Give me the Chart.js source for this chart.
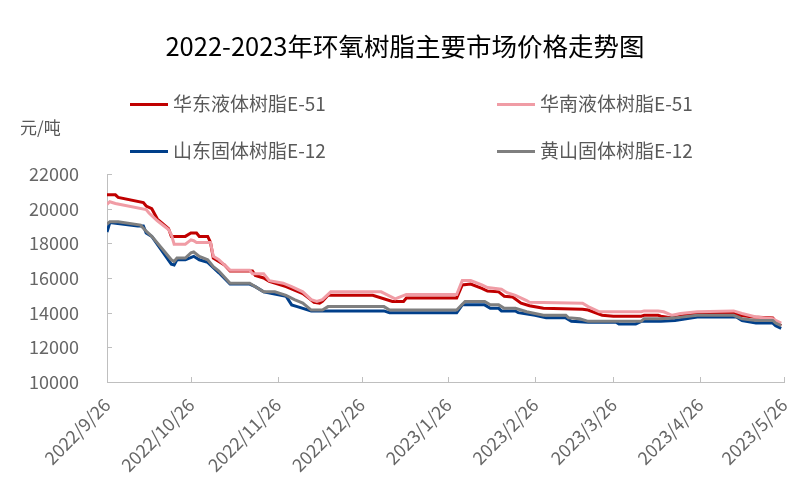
<!DOCTYPE html>
<html><head><meta charset="utf-8">
<script src="https://cdn.jsdelivr.net/npm/chart.js@4.4.0/dist/chart.umd.min.js"></script>
<style>
html,body{margin:0;padding:0;background:#fff;}
#wrap{position:relative;width:810px;height:499px;font-family:"Noto Sans CJK SC",sans-serif;}
#title{position:absolute;left:0;top:27px;width:810px;text-align:center;font-size:25.5px;color:#000;line-height:36px;}
.leg{position:absolute;font-size:19px;color:#595959;line-height:24px;white-space:nowrap;}
.leg .sw{display:inline-block;width:38px;height:3px;vertical-align:middle;margin-right:5px;position:relative;top:-1px;}
#unit{position:absolute;left:20px;top:115px;font-size:17px;color:#595959;line-height:24px;}
canvas{position:absolute;left:0;top:0;}
</style></head>
<body>
<div id="wrap">
<canvas id="c" width="810" height="499"></canvas>
<div id="title">2022-2023年环氧树脂主要市场价格走势图</div>
<div id="unit">元/吨</div>
<div id="legend"></div>
</div>
<script>
const chartTitle = '2022-2023年环氧树脂主要市场价格走势图';
const seriesNames = ['华东液体树脂E-51','华南液体树脂E-51','山东固体树脂E-12','黄山固体树脂E-12'];
const seriesColors = ['#C00000','#F09CA5','#003F8A','#7F7F7F'];
const xTickLabels = ['2022/9/26','2022/10/26','2022/11/26','2022/12/26','2023/1/26','2023/2/26','2023/3/26','2023/4/26','2023/5/26'];
const yTickValues = [10000,12000,14000,16000,18000,20000,22000];

const eastDates = ['2022/9/26','2022/9/29','2022/9/30','2022/10/9','2022/10/10','2022/10/12','2022/10/14','2022/10/18','2022/10/19','2022/10/24','2022/10/26','2022/10/28','2022/10/29','2022/11/1','2022/11/2','2022/11/3','2022/11/7','2022/11/9','2022/11/17','2022/11/18','2022/11/21','2022/11/23','2022/11/29','2022/12/2','2022/12/5','2022/12/7','2022/12/9','2022/12/11','2022/12/12','2022/12/14','2022/12/30','2023/1/6','2023/1/10','2023/1/11','2023/1/29','2023/1/31','2023/2/3','2023/2/7','2023/2/9','2023/2/13','2023/2/15','2023/2/18','2023/2/21','2023/2/24','2023/3/1','2023/3/15','2023/3/17','2023/3/22','2023/3/26','2023/4/5','2023/4/6','2023/4/11','2023/4/12','2023/4/16','2023/4/19','2023/4/22','2023/4/25','2023/4/27','2023/5/8','2023/5/10','2023/5/15','2023/5/22','2023/5/23','2023/5/25'];
const eastPrices = [20800,20800,20650,20350,20150,20000,19400,18850,18400,18400,18600,18600,18400,18400,18050,17150,16750,16400,16400,16150,16000,15800,15500,15300,15100,14850,14600,14550,14650,15000,15000,14650,14650,14850,14850,15600,15650,15400,15250,15200,14950,14900,14550,14400,14250,14200,14150,13850,13800,13800,13850,13850,13800,13700,13800,13900,13950,14000,14000,13850,13750,13700,13500,13250];

const southDates = ['2022/9/26','2022/9/27','2022/9/29','2022/10/10','2022/10/11','2022/10/14','2022/10/18','2022/10/19','2022/10/20','2022/10/24','2022/10/26','2022/10/27','2022/10/28','2022/11/2','2022/11/3','2022/11/5','2022/11/7','2022/11/9','2022/11/16','2022/11/17','2022/11/21','2022/11/23','2022/11/28','2022/12/1','2022/12/5','2022/12/8','2022/12/10','2022/12/12','2022/12/15','2023/1/2','2023/1/7','2023/1/11','2023/1/29','2023/1/31','2023/2/3','2023/2/7','2023/2/9','2023/2/14','2023/2/16','2023/2/19','2023/2/23','2023/2/24','2023/3/15','2023/3/17','2023/3/21','2023/4/5','2023/4/6','2023/4/11','2023/4/13','2023/4/16','2023/4/19','2023/4/25','2023/5/8','2023/5/11','2023/5/16','2023/5/22','2023/5/23','2023/5/25'];
const southPrices = [20250,20400,20300,19950,19750,19300,18800,18500,17950,17950,18200,18150,18050,18050,17250,17050,16750,16450,16450,16250,16250,15850,15700,15500,15200,14750,14650,14750,15200,15200,14800,15050,15050,15850,15850,15600,15450,15350,15150,15000,14700,14600,14550,14350,14050,14050,14100,14100,14050,13850,13950,14050,14100,13950,13750,13650,13550,13400];

const shandongDates = ['2022/9/26','2022/9/27','2022/10/7','2022/10/9','2022/10/10','2022/10/12','2022/10/19','2022/10/20','2022/10/21','2022/10/24','2022/10/27','2022/10/29','2022/11/1','2022/11/3','2022/11/5','2022/11/9','2022/11/16','2022/11/18','2022/11/21','2022/11/29','2022/12/1','2022/12/3','2022/12/8','2023/1/3','2023/1/5','2023/1/29','2023/1/31','2023/2/8','2023/2/10','2023/2/13','2023/2/14','2023/2/19','2023/2/20','2023/2/26','2023/3/2','2023/3/9','2023/3/11','2023/3/17','2023/3/27','2023/3/28','2023/4/3','2023/4/5','2023/4/12','2023/4/17','2023/4/25','2023/5/9','2023/5/11','2023/5/16','2023/5/22','2023/5/23','2023/5/25'];
const shandongPrices = [18650,19200,19000,19000,18600,18400,16800,16750,17050,17050,17250,17050,16900,16600,16300,15650,15650,15500,15200,14950,14450,14350,14100,14100,14000,14000,14450,14450,14250,14250,14100,14100,14000,13850,13700,13700,13500,13450,13450,13350,13350,13500,13500,13550,13750,13750,13550,13400,13400,13250,13100];

const huangshanDates = ['2022/9/26','2022/9/27','2022/9/30','2022/10/8','2022/10/10','2022/10/12','2022/10/19','2022/10/20','2022/10/21','2022/10/24','2022/10/26','2022/10/27','2022/10/29','2022/11/1','2022/11/3','2022/11/5','2022/11/9','2022/11/16','2022/11/21','2022/11/25','2022/11/29','2022/12/2','2022/12/5','2022/12/8','2022/12/12','2022/12/14','2023/1/3','2023/1/5','2023/1/29','2023/2/1','2023/2/8','2023/2/10','2023/2/13','2023/2/15','2023/2/19','2023/2/23','2023/2/26','2023/3/1','2023/3/9','2023/3/10','2023/3/14','2023/3/17','2023/4/5','2023/4/6','2023/4/12','2023/4/17','2023/4/25','2023/5/8','2023/5/11','2023/5/16','2023/5/22','2023/5/23','2023/5/25'];
const huangshanPrices = [19100,19250,19250,19050,18700,18400,17050,16950,17150,17150,17450,17500,17250,17050,16650,16400,15700,15700,15200,15200,15000,14750,14550,14150,14150,14350,14350,14150,14150,14650,14650,14450,14450,14250,14250,14050,13950,13850,13850,13700,13650,13500,13500,13650,13650,13700,13850,13850,13650,13550,13550,13400,13250];

function dayNum(s){const p=s.split('/').map(Number);return Date.UTC(p[0],p[1]-1,p[2])/86400000;}
function pts(dates, prices){return dates.map((d,i)=>({x:dayNum(d),y:prices[i]}));}

const allSeries = [[eastDates,eastPrices],[southDates,southPrices],[shandongDates,shandongPrices],[huangshanDates,huangshanPrices]];

document.getElementById('title').textContent = chartTitle;
const legendPos = [[130,91],[497,91],[130,138],[497,138]];
const lg = document.getElementById('legend');
seriesNames.forEach((n,i)=>{
  const d=document.createElement('div');d.className='leg';
  d.style.left=legendPos[i][0]+'px';d.style.top=legendPos[i][1]+'px';
  const s=document.createElement('span');s.className='sw';s.style.background=seriesColors[i];
  d.appendChild(s);d.appendChild(document.createTextNode(n));lg.appendChild(d);
});

const tickMarks = {
  id:'tickMarks',
  beforeDatasetsDraw(chart){
    const {ctx, chartArea:a, scales:{x,y}} = chart;
    ctx.save();ctx.strokeStyle='#BFBFBF';ctx.lineWidth=1;ctx.beginPath();
    y.ticks.forEach(t=>{const py=Math.round(y.getPixelForValue(t.value))+0.5;ctx.moveTo(a.left,py);ctx.lineTo(a.left+5,py);});
    x.ticks.forEach(t=>{const px=Math.round(x.getPixelForValue(t.value))+0.5;ctx.moveTo(px,a.bottom);ctx.lineTo(px,a.bottom-5);});
    ctx.stroke();ctx.restore();
  }
};

const tickFont = {family:'"Noto Sans CJK SC", sans-serif', size:18};
new Chart(document.getElementById('c'), {
  type:'line',
  data:{datasets: seriesNames.map((n,i)=>({
    label:n, data:pts(allSeries[i][0],allSeries[i][1]),
    borderColor:seriesColors[i], backgroundColor:seriesColors[i],
    borderWidth:3, pointRadius:0, tension:0, fill:false, order:4-i
  }))},
  options:{
    responsive:false, animation:false,
    layout:{padding:{top:174,right:26,bottom:0,left:0}},
    plugins:{legend:{display:false},tooltip:{enabled:false},title:{display:false}},
    scales:{
      x:{type:'linear', min:dayNum(xTickLabels[0]), max:dayNum(xTickLabels[xTickLabels.length-1]),
        afterBuildTicks(s){s.ticks = xTickLabels.map(l=>({value:dayNum(l)}));},
        afterFit(s){s.height=117;},
        ticks:{autoSkip:false, minRotation:45, maxRotation:45, color:'#666', font:tickFont, padding:4,
          callback:(v,i)=>xTickLabels[i]},
        grid:{display:false}, border:{display:true,color:'#BFBFBF',width:1}},
      y:{min:yTickValues[0], max:yTickValues[yTickValues.length-1],
        afterBuildTicks(s){s.ticks = yTickValues.map(v=>({value:v}));},
        afterFit(s){s.width=107;},
        ticks:{color:'#666', font:tickFont, padding:20, callback:(v)=>String(v)},
        grid:{display:false}, border:{display:true,color:'#BFBFBF',width:1}}
    }
  },
  plugins:[tickMarks]
});
</script>
</body></html>
